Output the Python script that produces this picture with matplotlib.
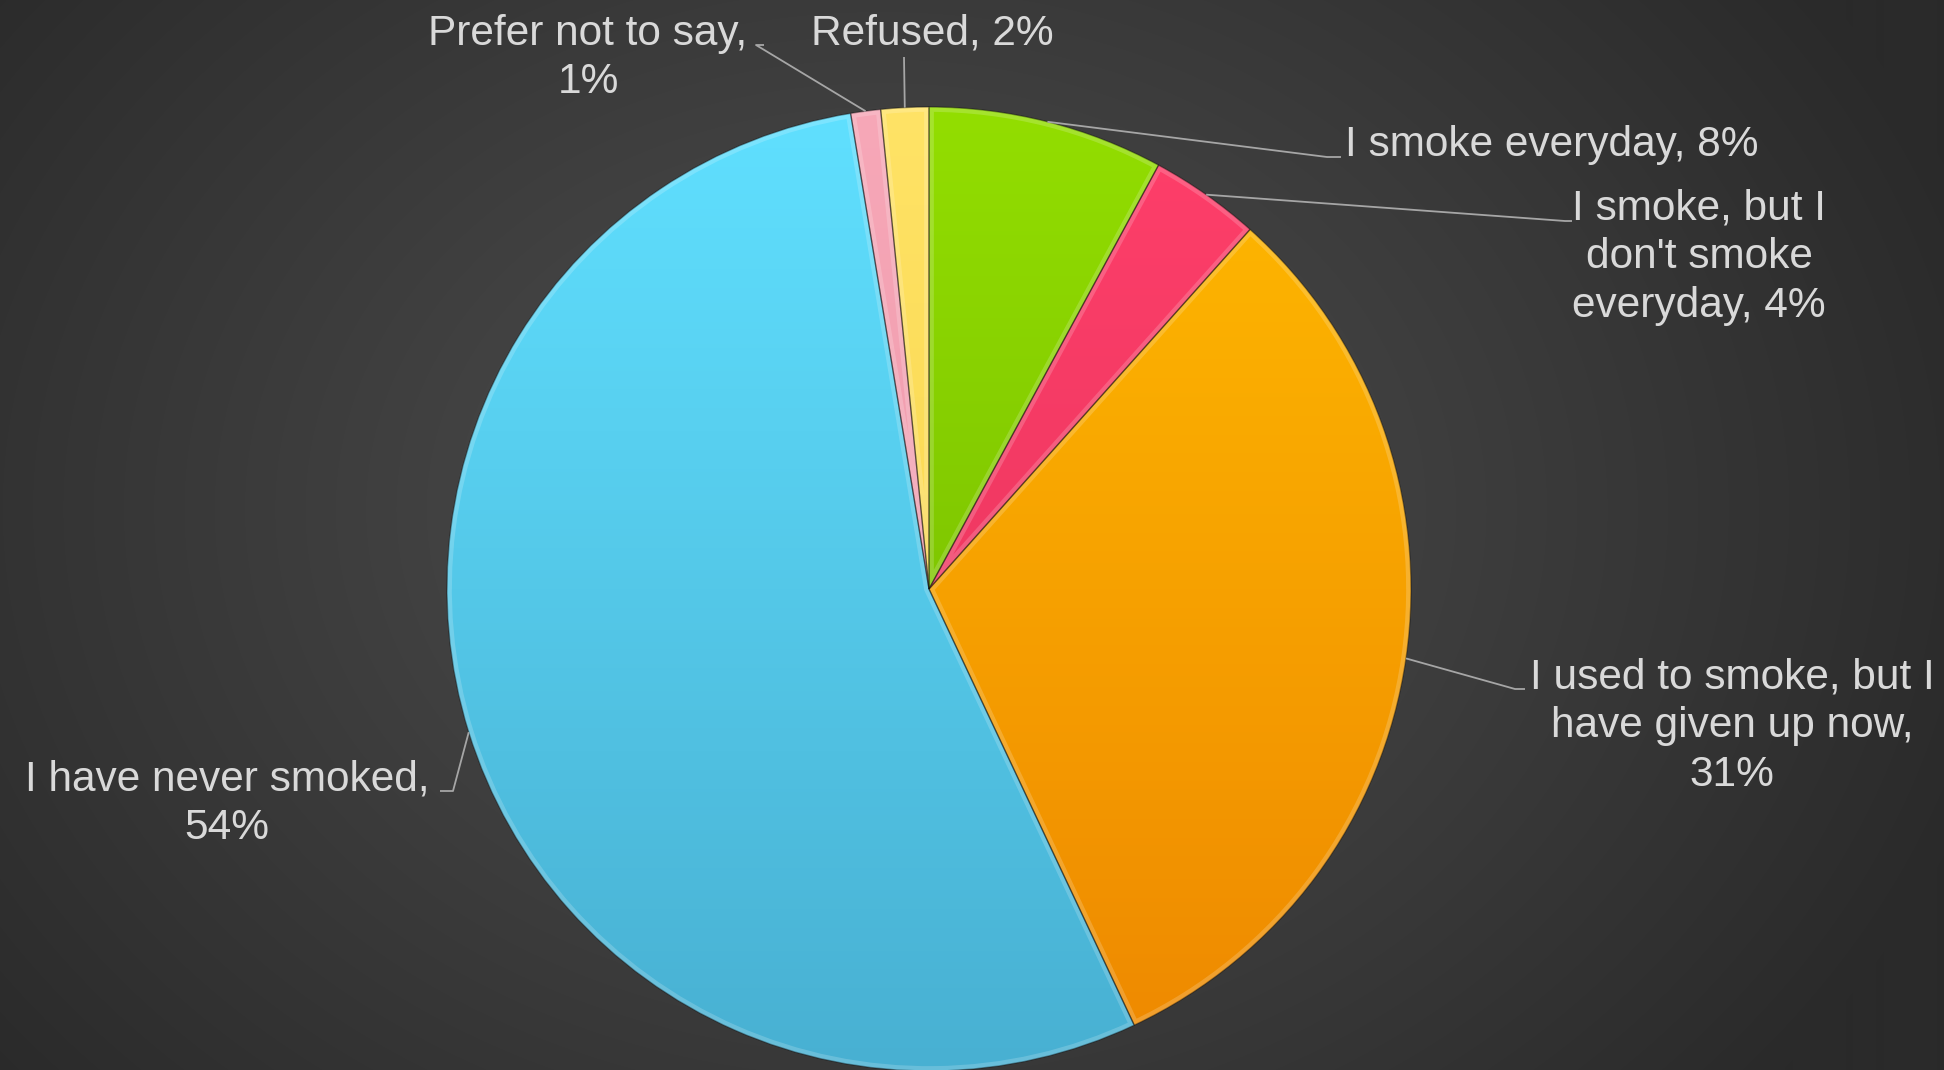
import numpy as np
import matplotlib.pyplot as plt
from matplotlib.colors import LinearSegmentedColormap
from matplotlib.patches import PathPatch

# data, clockwise from 12 o'clock
categories = ["I smoke everyday", "I smoke, but I\ndon't smoke\neveryday",
              "I used to smoke, but I\nhave given up now,", "I have never smoked,",
              "Prefer not to say,", "Refused"]
shares = [7.9, 3.7, 31.4, 54.4, 1.0, 1.6]
label_seps = [", ", ", ", "\n", "\n", "\n", ", "]

top_colors = ["#93de00", "#ff3f6a", "#ffba00", "#60e0ff", "#f7a8b8", "#ffe366"]
bot_colors = ["#6cb000", "#e0325a", "#ee8800", "#48b0d2", "#e890a4", "#f5cf40"]

W, H = 1944, 1070
fig = plt.figure(figsize=(W / 100, H / 100), dpi=100)
ax = fig.add_axes([0, 0, 1, 1])

# radial background
yy, xx = np.mgrid[0:H, 0:W]
dist = np.sqrt(((xx - 880) / 1150.0) ** 2 + ((yy - 560) / 900.0) ** 2)
val = np.clip(0x50 - (0x50 - 0x2a) * dist, 0x2a, 0x50) / 255.0
ax.imshow(np.dstack([val, val, val]), extent=[0, W, 0, H], origin="lower",
          zorder=0, interpolation="bilinear")

cx, cy, R = 929, 481, 482
wedges, _ = ax.pie(shares, startangle=90, counterclock=False,
                   center=(cx, cy), radius=R, frame=True,
                   colors=top_colors,
                   wedgeprops=dict(edgecolor=(0, 0, 0, 0.35), linewidth=1.0))
ax.set_xlim(0, W)
ax.set_ylim(0, H)
ax.set_aspect("equal")
ax.axis("off")

grad = np.linspace(0, 1, 256).reshape(-1, 1)
for w, c0, c1 in zip(wedges, top_colors, bot_colors):
    cmap = LinearSegmentedColormap.from_list("g", [c1, c0])
    im = ax.imshow(grad, cmap=cmap, extent=[cx - R, cx + R, cy - R, cy + R],
                   origin="lower", aspect="auto", zorder=2)
    im.set_clip_path(w)
    # soft inner bevel
    rim = PathPatch(w.get_path(), transform=w.get_transform(), facecolor="none",
                    edgecolor=(1, 1, 1, 0.18), linewidth=7, zorder=2.5)
    ax.add_patch(rim)
    rim.set_clip_path(w)
    w.set_zorder(3)
    w.set_facecolor("none")

# labels: text position, elbow point, line end, alignment
label_pos = [(1345, 925), (1699, 813), (1732, 344), (227, 266), (588, 1012), (932, 1037)]
elbows = [(1327, 913), (1565, 849), (1515, 381), (453, 279), (756, 1025), (904, 1013)]
line_end = [(1341, 913), (1572, 849), (1525, 381), (440, 279), (764, 1025), (904, 1013)]
aligns = ["left", "center", "center", "center", "center", "center"]

txt_col = "#d9d9d9"
for w, cat, s, sep, tp, el, le, ha in zip(wedges, categories, shares, label_seps,
                                          label_pos, elbows, line_end, aligns):
    mid = np.deg2rad((w.theta1 + w.theta2) / 2)
    px, py = cx + R * np.cos(mid), cy + R * np.sin(mid)
    ax.plot([px, el[0], le[0]], [py, el[1], le[1]], color="#a6a6a6", lw=1.3,
            zorder=4, solid_capstyle="butt")
    ax.text(tp[0], tp[1], f"{cat}{sep}{s:.0f}%", ha=ha, va="center",
            multialignment="center", color=txt_col, fontsize=30.5,
            family=["Liberation Sans", "DejaVu Sans"], linespacing=1.28,
            zorder=5)

fig.savefig("out.png", dpi=100)
